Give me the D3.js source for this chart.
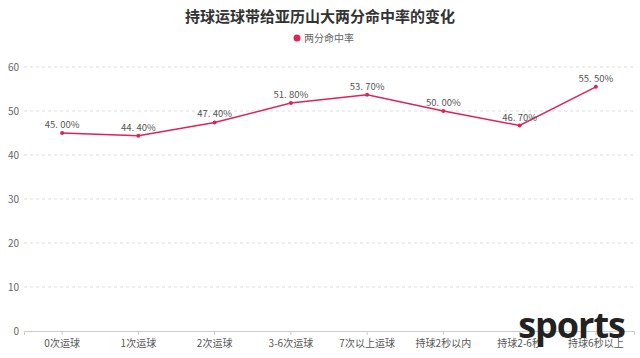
<!DOCTYPE html>
<html><head><meta charset="utf-8">
<script src="https://cdn.jsdelivr.net/npm/d3@7"></script>
<style>body{margin:0;background:#fff;}svg{display:block;font-family:"Noto Sans CJK SC","Noto Sans",sans-serif;}</style>
</head><body><svg id="c" width="640" height="358"></svg>
<script>
const title = "持球运球带给亚历山大两分命中率的变化";
const seriesName = "两分命中率";
const categories = ["0次运球","1次运球","2次运球","3-6次运球","7次以上运球","持球2秒以内","持球2-6秒","持球6秒以上"];
const values = [45.00, 44.40, 47.40, 51.80, 53.70, 50.00, 46.70, 55.50];
const yTicks = [0,10,20,30,40,50,60];
const color = "#dc2456";

const svg = d3.select("#c");
const x = d3.scaleBand().domain(categories).range([24, 634]);
const y = d3.scaleLinear().domain([0,60]).range([331, 67]);

// grid
svg.append("g").selectAll("line").data(yTicks.filter(d=>d>0)).join("line")
  .attr("x1",24).attr("x2",634).attr("y1",d=>y(d)).attr("y2",d=>y(d))
  .attr("stroke","#dcdcdc").attr("stroke-dasharray","3,3");

// y labels
svg.append("g").selectAll("text").data(yTicks).join("text")
  .attr("x",19).attr("y",d=>y(d)).attr("dy","0.35em").attr("text-anchor","end")
  .attr("font-size",10).attr("fill","#666").text(d=>d);

// x axis
const xa = svg.append("g").attr("transform","translate(0,331)")
  .call(d3.axisBottom(x).tickSize(4).tickPadding(5));
xa.select(".domain").attr("stroke","#ccc");
xa.selectAll(".tick line").attr("stroke","#ccc");
xa.selectAll(".tick text").attr("font-size",10).attr("fill","#555")
  .attr("font-family",'"Noto Sans CJK SC",sans-serif');

const cx = d => x(d) + x.bandwidth()/2;
const pts = categories.map((c,i)=>({c, v: values[i]}));

svg.append("path").datum(pts)
  .attr("d", d3.line().x(d=>cx(d.c)).y(d=>y(d.v)))
  .attr("fill","none").attr("stroke",color).attr("stroke-width",1.5);

svg.append("g").selectAll("circle").data(pts).join("circle")
  .attr("cx",d=>cx(d.c)).attr("cy",d=>y(d.v)).attr("r",2).attr("fill",color);

svg.append("g").selectAll("text").data(pts).join("text")
  .attr("x",d=>cx(d.c)).attr("y",d=>y(d.v)-5).attr("text-anchor","middle")
  .attr("font-size",9.5).attr("fill","#555").text(d=>d.v.toFixed(2).replace(".", ". ")+"%");

// title
svg.append("text").attr("x",320).attr("y",22).attr("text-anchor","middle")
  .attr("font-size",15).attr("font-weight","bold").attr("fill","#333").text(title);

// legend
svg.append("circle").attr("cx",297).attr("cy",38).attr("r",3.5).attr("fill",color);
svg.append("text").attr("x",304).attr("y",38).attr("dy","0.35em")
  .attr("font-size",10).attr("fill","#666").text(seriesName);

// watermark
svg.append("text").attr("x",625).attr("y",338).attr("text-anchor","end")
  .attr("font-size",36).attr("font-weight","bold").attr("fill","#222")
  .attr("font-family","'Open Sans','DejaVu Sans',sans-serif").attr("letter-spacing","-1")
  .text("sports");
</script></body></html>
